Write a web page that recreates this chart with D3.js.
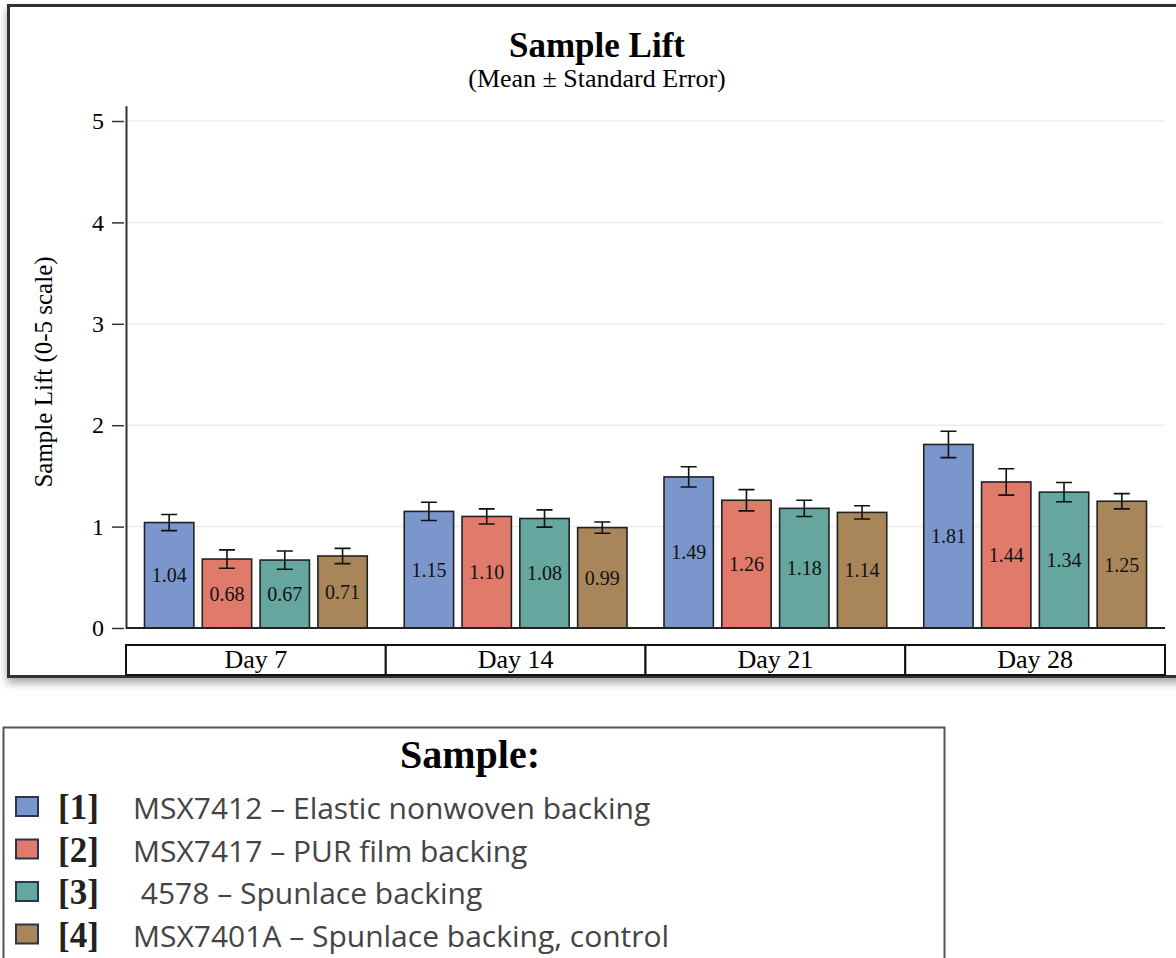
<!DOCTYPE html>
<html>
<head>
<meta charset="utf-8">
<script src="https://cdn.jsdelivr.net/npm/d3@7"></script>
<style>
  html, body { margin: 0; padding: 0; background: #fff; overflow: hidden; }
  svg { display: block; }
</style>
</head>
<body>
<div id="chart"></div>
<script>
// Data
var days = ['Day 7', 'Day 14', 'Day 21', 'Day 28'];
var sampleIds = ['[1]', '[2]', '[3]', '[4]'];
var sampleNames = [
    'MSX7412 \u2013 Elastic nonwoven backing',
    'MSX7417 \u2013 PUR film backing',
    ' 4578 \u2013 Spunlace backing',
    'MSX7401A \u2013 Spunlace backing, control'
];
var sampleColors = ['#7b96cc', '#e07b6c', '#65a69e', '#a8865a'];
var mean1 = [1.04, 1.15, 1.49, 1.81];
var mean2 = [0.68, 1.10, 1.26, 1.44];
var mean3 = [0.67, 1.08, 1.18, 1.34];
var mean4 = [0.71, 0.99, 1.14, 1.25];
var se1 = [0.08, 0.09, 0.10, 0.13];
var se2 = [0.09, 0.075, 0.105, 0.13];
var se3 = [0.09, 0.085, 0.08, 0.095];
var se4 = [0.075, 0.055, 0.065, 0.075];
var yTicks = [0, 1, 2, 3, 4, 5];

var means = [mean1, mean2, mean3, mean4];
var errs = [se1, se2, se3, se4];
var rows = [];
days.forEach(function (day, i) {
    sampleIds.forEach(function (s, j) {
        rows.push({ day: day, sample: s, idx: j, mean: means[j][i], se: errs[j][i] });
    });
});

var serif = '"Liberation Serif", "Times New Roman", serif';

var svg = d3.select('#chart')
    .append('svg')
    .attr('width', 1176)
    .attr('height', 958);

// shadow for the chart frame
var defs = svg.append('defs');
var f = defs.append('filter').attr('id', 'shadow')
    .attr('x', '-5%').attr('y', '-5%').attr('width', '110%').attr('height', '115%');
f.append('feDropShadow').attr('dx', 0).attr('dy', 5).attr('stdDeviation', 4)
    .attr('flood-color', '#000').attr('flood-opacity', 0.35);

// chart frame
svg.append('rect')
    .attr('x', 8.5).attr('y', 5.5)
    .attr('width', 1190).attr('height', 671)
    .attr('fill', '#fff')
    .attr('stroke', '#333')
    .attr('stroke-width', 3)
    .attr('filter', 'url(#shadow)');

svg.append('text')
    .attr('x', 597).attr('y', 57)
    .attr('text-anchor', 'middle')
    .style('font-family', serif)
    .style('font-weight', 'bold')
    .style('font-size', '35px')
    .text('Sample Lift');

svg.append('text')
    .attr('x', 597).attr('y', 87)
    .attr('text-anchor', 'middle')
    .style('font-family', serif)
    .style('font-size', '26px')
    .text('(Mean \u00b1 Standard Error)');

// scales
var y = d3.scaleLinear().domain([0, 5.15]).range([628, 105.8]);
var x0 = d3.scaleBand().domain(days).range([126, 1165]).padding(0);
var x1 = d3.scaleBand().domain(sampleIds).range([0, x0.bandwidth()])
    .paddingInner(0.146).paddingOuter(0.32);

// grid
svg.append('g')
    .selectAll('line')
    .data(yTicks.filter(function (d) { return d > 0; }))
    .enter()
    .append('line')
    .attr('x1', 127).attr('x2', 1165)
    .attr('y1', function (d) { return y(d); })
    .attr('y2', function (d) { return y(d); })
    .attr('stroke', '#ececec')
    .attr('stroke-width', 1.5);

// y axis
var yAxis = svg.append('g')
    .attr('transform', 'translate(126,0)')
    .call(d3.axisLeft(y).tickValues(yTicks).tickFormat(d3.format('d')).tickSize(12).tickSizeOuter(0));
yAxis.select('.domain').attr('stroke', '#333').attr('stroke-width', 2);
yAxis.selectAll('.tick line').attr('stroke', '#333').attr('stroke-width', 1.5).attr('x2', -14).attr('x1', -2);
yAxis.selectAll('.tick text')
    .attr('x', -22)
    .style('font-family', serif)
    .style('font-size', '24px')
    .attr('fill', '#000');

svg.append('text')
    .attr('transform', 'translate(52,372) rotate(-90)')
    .attr('text-anchor', 'middle')
    .style('font-family', serif)
    .style('font-size', '25px')
    .text('Sample Lift (0-5 scale)');

// bars
var groups = svg.append('g')
    .selectAll('g')
    .data(rows)
    .enter()
    .append('g')
    .attr('transform', function (d) { return 'translate(' + (x0(d.day) + x1(d.sample)) + ',0)'; });

groups.append('rect')
    .attr('x', 0)
    .attr('y', function (d) { return y(d.mean); })
    .attr('width', x1.bandwidth())
    .attr('height', function (d) { return y(0) - y(d.mean); })
    .attr('fill', function (d) { return sampleColors[d.idx]; })
    .attr('stroke', '#222')
    .attr('stroke-width', 1.6);

groups.append('text')
    .attr('x', x1.bandwidth() / 2)
    .attr('y', function (d) { return (y(d.mean) + y(0)) / 2; })
    .attr('dy', '0.35em')
    .attr('text-anchor', 'middle')
    .style('font-family', serif)
    .style('font-size', '20px')
    .attr('fill', '#111')
    .text(function (d) { return d.mean.toFixed(2); });

// error bars
var cap = 8;
groups.append('path')
    .attr('d', function (d) {
        var cx = x1.bandwidth() / 2;
        var t = y(d.mean + d.se), b = y(d.mean - d.se);
        return 'M' + cx + ',' + t + 'V' + b +
            'M' + (cx - cap) + ',' + t + 'H' + (cx + cap) +
            'M' + (cx - cap) + ',' + b + 'H' + (cx + cap);
    })
    .attr('fill', 'none')
    .attr('stroke', '#111')
    .attr('stroke-width', 1.6);

// x baseline
svg.append('line')
    .attr('x1', 126).attr('x2', 1165)
    .attr('y1', y(0)).attr('y2', y(0))
    .attr('stroke', '#222')
    .attr('stroke-width', 2);

// category boxes
var cats = svg.append('g')
    .selectAll('g')
    .data(days)
    .enter()
    .append('g');
cats.append('rect')
    .attr('x', function (d) { return x0(d); })
    .attr('y', 645)
    .attr('width', x0.bandwidth())
    .attr('height', 30)
    .attr('fill', '#fff')
    .attr('stroke', '#111')
    .attr('stroke-width', 2);
cats.append('text')
    .attr('x', function (d) { return x0(d) + x0.bandwidth() / 2; })
    .attr('y', 668)
    .attr('text-anchor', 'middle')
    .style('font-family', serif)
    .style('font-size', '26px')
    .text(function (d) { return d; });

// legend
var legend = svg.append('g');
legend.append('rect')
    .attr('x', 3.5).attr('y', 727.5)
    .attr('width', 941).attr('height', 260)
    .attr('fill', '#fff')
    .attr('stroke', '#555')
    .attr('stroke-width', 2);
legend.append('text')
    .attr('x', 470).attr('y', 768)
    .attr('text-anchor', 'middle')
    .style('font-family', serif)
    .style('font-weight', 'bold')
    .style('font-size', '40px')
    .text('Sample:');

var ly = d3.scaleBand().domain(sampleIds).range([785, 955]);
var items = legend.selectAll('.item')
    .data(sampleIds)
    .enter()
    .append('g')
    .attr('class', 'item')
    .attr('transform', function (d) { return 'translate(0,' + ly(d) + ')'; });
items.append('rect')
    .attr('x', 16).attr('y', 12)
    .attr('width', 22).attr('height', 19)
    .attr('fill', function (d, i) { return sampleColors[i]; })
    .attr('stroke', '#2a3550')
    .attr('stroke-width', 2);
items.append('text')
    .attr('x', 58).attr('y', 34)
    .style('font-family', serif)
    .style('font-weight', 'bold')
    .style('font-size', '35px')
    .attr('fill', '#222')
    .text(function (d) { return d; });
items.append('text')
    .attr('x', 133).attr('y', 34)
    .style('font-family', '"Open Sans", Lato, sans-serif')
    .style('font-size', '30px')
    .style('white-space', 'pre')
    .attr('fill', '#444')
    .text(function (d, i) { return sampleNames[i]; });
</script>
</body>
</html>
